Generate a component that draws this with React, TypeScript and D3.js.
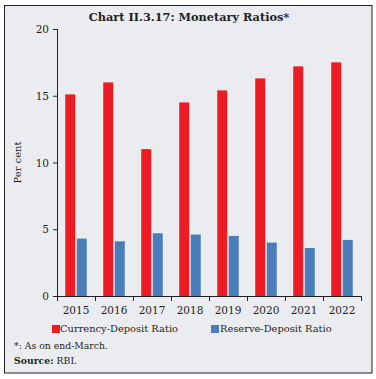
import React from "react";
import * as d3 from "d3";

const years = ["2015", "2016", "2017", "2018", "2019", "2020", "2021", "2022"];
const currencyDeposit = [15.1, 16.0, 11.0, 14.5, 15.4, 16.3, 17.2, 17.5];
const reserveDeposit = [4.3, 4.1, 4.7, 4.6, 4.5, 4.0, 3.6, 4.2];
const yTicks = [0, 5, 10, 15, 20];
const seriesNames = ["Currency-Deposit Ratio", "Reserve-Deposit Ratio"];
const colors = ["#ed1c24", "#4a7ebb"];

const W = 376, H = 379;
const left = 57, right = 361, top = 29, bottom = 296;
const font = "'DejaVu Serif', serif";

export default function App() {
  const x = d3.scaleBand().domain(years).range([left, right]).paddingInner(0).paddingOuter(0);
  const y = d3.scaleLinear().domain([0, 20]).range([bottom, top]);
  const bw = x.bandwidth();
  const barW = 10;
  const gap = 1.5;
  const groupW = barW * 2 + gap;
  return (
    <svg width={W} height={H} style={{ position: "absolute", left: 0, top: 0 }} fontFamily={font}>
      <rect x={0} y={0} width={W} height={H} fill="#ffffff" />
      <rect x={4.5} y={5.5} width={367.5} height={367.5} fill="#ebecf0" stroke="#222" strokeWidth={1} />
      <text x={189} y={21} textAnchor="middle" fontSize={11.3} fontWeight="bold" fill="#231f20">
        Chart II.3.17: Monetary Ratios*
      </text>
      {years.map((yr, i) => {
        const x0 = (x(yr) as number) + (bw - groupW) / 2;
        return (
          <g key={yr}>
            <rect x={x0} y={y(currencyDeposit[i])} width={barW} height={bottom - y(currencyDeposit[i])} fill={colors[0]} />
            <rect x={x0 + barW + gap} y={y(reserveDeposit[i])} width={barW} height={bottom - y(reserveDeposit[i])} fill={colors[1]} />
          </g>
        );
      })}
      <line x1={left + 0.5} x2={left + 0.5} y1={top} y2={bottom} stroke="#222" />
      {yTicks.map((t) => (
        <g key={t}>
          <line x1={left - 4} x2={left} y1={y(t) + 0.5} y2={y(t) + 0.5} stroke="#222" />
          <text x={left - 8} y={y(t) + 4} textAnchor="end" fontSize={10.5} fill="#231f20">{t}</text>
        </g>
      ))}
      <line x1={left} x2={right} y1={bottom + 0.5} y2={bottom + 0.5} stroke="#222" />
      {years.map((yr) => (
        <line key={"t" + yr} x1={(x(yr) as number) + bw + 0.5} x2={(x(yr) as number) + bw + 0.5} y1={bottom} y2={bottom + 5} stroke="#222" />
      ))}
      <line x1={left + 0.5} x2={left + 0.5} y1={bottom} y2={bottom + 5} stroke="#222" />
      {years.map((yr) => (
        <text key={"l" + yr} x={(x(yr) as number) + bw / 2} y={bottom + 18} textAnchor="middle" fontSize={10.5} fill="#231f20">{yr}</text>
      ))}
      <text transform={`translate(21,${(top + bottom) / 2}) rotate(-90)`} textAnchor="middle" fontSize={10} fill="#231f20">Per cent</text>
      <rect x={52} y={325} width={8} height={8} fill={colors[0]} />
      <text x={60} y={332} fontSize={9.9} fill="#231f20">{seriesNames[0]}</text>
      <rect x={211} y={325} width={8} height={8} fill={colors[1]} />
      <text x={220} y={332} fontSize={9.9} fill="#231f20">{seriesNames[1]}</text>
      <text x={14} y={349} fontSize={9.3} fill="#231f20">*: As on end-March.</text>
      <text x={14} y={364} fontSize={9.3} fill="#231f20"><tspan fontWeight="bold">Source:</tspan> RBI.</text>
    </svg>
  );
}
